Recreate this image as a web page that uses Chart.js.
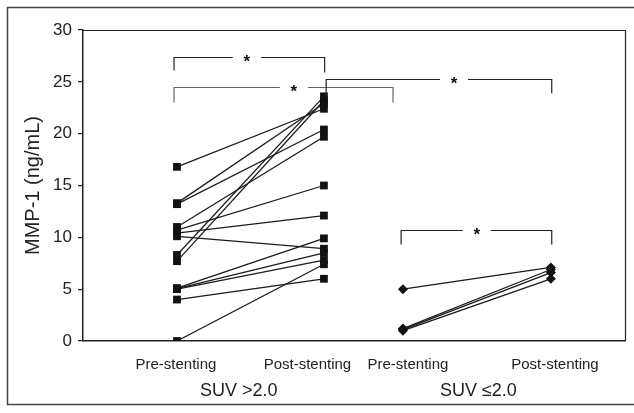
<!DOCTYPE html>
<html><head><meta charset="utf-8">
<script src="https://cdn.jsdelivr.net/npm/chart.js@4"></script>
<style>html,body{margin:0;padding:0;background:#fff}#wrap{width:634px;height:413px}</style>
</head><body><div id="wrap"><canvas id="c" width="634" height="413"></canvas></div>
<script>
// ---- data ----
const columnLabels = ['Pre-stenting', 'Post-stenting', 'Pre-stenting', 'Post-stenting'];
const groupLabels = ['SUV >2.0', 'SUV \u22642.0'];
const yTickValues = [0, 5, 10, 15, 20, 25, 30];
const highPre  = [16.8, 13.3, 13.2, 11.0, 10.7, 10.4, 10.1, 8.3, 7.7, 5.1, 5.05, 5.0, 4.0, 0.0];
const highPost = [22.4, 22.9, 20.4, 19.7, 15.0, 12.1, 8.9, 23.6, 23.2, 9.9, 8.5, 7.8, 6.0, 7.4];
const lowPre  = [5.0, 1.2, 1.1, 1.0];
const lowPost = [7.1, 6.9, 6.6, 6.0];
const sigMarks = ['*', '*', '*', '*'];

// ---- layout (positions on the x scale) ----
const colX = [0, 2, 3.075, 5.088];
const labelX = [-0.014, 1.775, 3.143, 5.143];
const bracketGeom = [
  {x1: -0.04, x2: 2.01, y: 27.4, yl: 26.1, yr: 25.9, sx: 0.95, color: '#222'},
  {x1: -0.04, x2: 2.94, y: 24.5, yl: 23.0, yr: 23.0, sx: 1.59, color: '#666'},
  {x1: 2.03, x2: 5.10, y: 25.3, yl: 23.6, yr: 23.9, sx: 3.77, color: '#222'},
  {x1: 3.05, x2: 5.10, y: 10.7, yl: 9.3, yr: 9.3, sx: 4.08, color: '#222'}
];

const FONT = '"Liberation Sans", Arial, Helvetica, sans-serif';
const datasets = [];
highPre.forEach((v, i) => datasets.push({
  data: [{x: colX[0], y: v}, {x: colX[1], y: highPost[i]}],
  showLine: true, borderColor: '#1a1a1a', borderWidth: 1.25,
  pointStyle: 'rect', pointRadius: 5.5, pointBackgroundColor: '#111', pointBorderColor: '#111', pointBorderWidth: 0
}));
lowPre.forEach((v, i) => datasets.push({
  data: [{x: colX[2], y: v}, {x: colX[3], y: lowPost[i]}],
  showLine: true, borderColor: '#1a1a1a', borderWidth: 1.25,
  pointStyle: 'rectRot', pointRadius: 5, pointBackgroundColor: '#111', pointBorderColor: '#111', pointBorderWidth: 0
}));

const decor = {
  id: 'decor',
  beforeDraw(chart) {
    const ctx = chart.ctx;
    ctx.save();
    ctx.fillStyle = '#fff';
    ctx.fillRect(0, 0, chart.width, chart.height);
    ctx.strokeStyle = '#444';
    ctx.lineWidth = 1.5;
    ctx.strokeRect(7.5, 7.5, 700, 397);
    ctx.restore();
  },
  afterDraw(chart) {
    const ctx = chart.ctx, a = chart.chartArea;
    const xs = chart.scales.x, ys = chart.scales.y;
    ctx.save();
    ctx.strokeStyle = '#222';
    ctx.lineWidth = 1.2;
    ctx.beginPath();
    ctx.moveTo(a.left, a.top + 0.5); ctx.lineTo(a.right + 0.5, a.top + 0.5);
    ctx.lineTo(a.right + 0.5, a.bottom);
    ctx.stroke();
    // significance brackets
    bracketGeom.forEach((b, i) => {
      const x1 = xs.getPixelForValue(b.x1), x2 = xs.getPixelForValue(b.x2);
      const y = Math.round(ys.getPixelForValue(b.y)) + 0.5;
      const yl = ys.getPixelForValue(b.yl), yr = ys.getPixelForValue(b.yr);
      const sx = xs.getPixelForValue(b.sx);
      ctx.strokeStyle = b.color;
      ctx.lineWidth = 1.2;
      ctx.beginPath();
      ctx.moveTo(x1, yl); ctx.lineTo(x1, y); ctx.lineTo(sx - 14, y);
      ctx.moveTo(sx + 14, y); ctx.lineTo(x2, y); ctx.lineTo(x2, yr);
      ctx.stroke();
      ctx.fillStyle = '#111';
      ctx.font = 'bold 17px ' + FONT;
      ctx.textAlign = 'center';
      ctx.textBaseline = 'alphabetic';
      ctx.fillText(sigMarks[i], sx, y + 9);
    });
    // group labels
    ctx.fillStyle = '#222';
    ctx.font = '18px ' + FONT;
    ctx.textAlign = 'center';
    ctx.textBaseline = 'middle';
    for (let g = 0; g < 2; g++) {
      const cx = (xs.getPixelForValue(labelX[2 * g]) + xs.getPixelForValue(labelX[2 * g + 1])) / 2;
      ctx.fillText(groupLabels[g], cx - 3, 391);
    }
    ctx.restore();
  }
};

new Chart(document.getElementById('c'), {
  type: 'scatter',
  data: {datasets},
  options: {
    responsive: false, animation: false, devicePixelRatio: 1,
    layout: {padding: {top: 30, right: 9, left: 0, bottom: 0}},
    plugins: {legend: {display: false}, tooltip: {enabled: false}},
    scales: {
      x: {
        type: 'linear', min: -1.279, max: 6.097,
        afterBuildTicks: s => { s.ticks = labelX.map(v => ({value: v})); },
        afterFit: s => { s.height = 72; },
        grid: {display: false},
        border: {display: true, color: '#222', width: 1.5},
        ticks: {
          autoSkip: false, maxRotation: 0, padding: 7, color: '#222',
          font: {family: FONT, size: 15},
          callback: (v, i) => columnLabels[i]
        }
      },
      y: {
        min: 0, max: 30,
        afterBuildTicks: s => { s.ticks = yTickValues.map(v => ({value: v})); },
        afterFit: s => { s.width = 83; },
        grid: {drawOnChartArea: false, drawTicks: true, tickLength: 5, color: '#222', lineWidth: 1.2},
        border: {display: true, color: '#222', width: 1.5},
        ticks: {padding: 6, color: '#222', font: {family: FONT, size: 17}},
        title: {display: true, text: 'MMP-1 (ng/mL)', color: '#222',
          font: {family: FONT, size: 20}, padding: {top: 21, bottom: 0}}
      }
    }
  },
  plugins: [decor]
});
</script></body></html>
